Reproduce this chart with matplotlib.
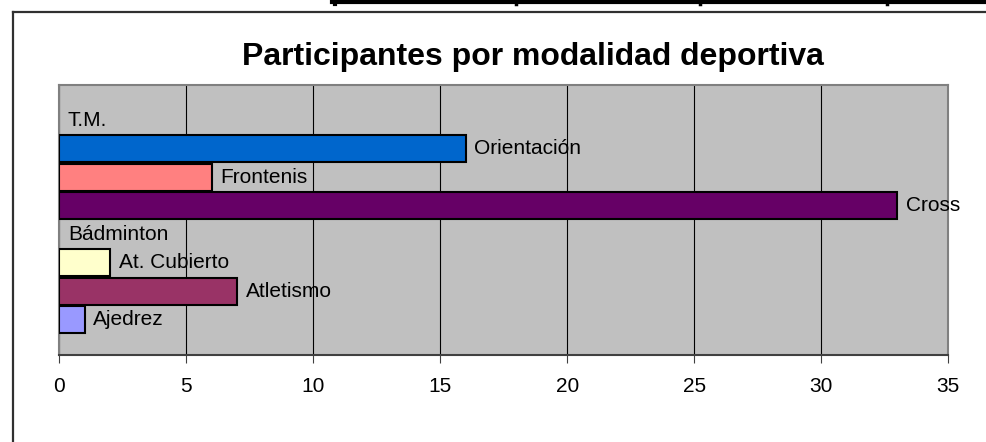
import numpy as np
import matplotlib; matplotlib.use("Agg"); import matplotlib.pyplot as plt
from matplotlib.lines import Line2D

plt.rcParams["font.family"] = ["Liberation Sans", "DejaVu Sans"]

categorias = ["T.M.", "Orientación", "Frontenis", "Cross", "Bádminton",
              "At. Cubierto", "Atletismo", "Ajedrez"]
participantes = [0, 16, 6, 33, 0, 2, 7, 1]
colores = ["#CCFFFF", "#0066CC", "#FF8080", "#660066", "#CCCCFF",
           "#FFFFCC", "#993366", "#9999FF"]
ticks_x = [0, 5, 10, 15, 20, 25, 30, 35]

W, H = 987, 442
fig = plt.figure(figsize=(W/100, H/100), dpi=100)
fig.patch.set_facecolor("white")

# marco del grafico y trozo de tabla de arriba
fig.add_artist(Line2D([13/W, 13/W], [0, 1-12/H], color="#303030", lw=1.6))
fig.add_artist(Line2D([13/W, 1], [1-12/H, 1-12/H], color="#303030", lw=1.6))
fig.add_artist(Line2D([332/W, 1], [1-2/H, 1-2/H], color="black", lw=3))
for xv in [335, 516, 700, 887]:
    fig.add_artist(Line2D([xv/W, xv/W], [1-4/H, 1], color="black", lw=3 if xv == 335 else 2.5))

ax = fig.add_axes([59.3/W, 1-355/H, (948-59.3)/W, (355-85)/H])
ax.set_facecolor("#C0C0C0")

y = np.arange(len(categorias))
lws = [1.5 if v > 0 else 0 for v in participantes]
ax.barh(y, participantes, height=0.95, color=colores, edgecolor="black", linewidth=lws, zorder=3)
for yi, v, nombre in zip(y, participantes, categorias):
    ax.annotate(nombre, (v, yi), xytext=(6.2, 0), textcoords="offset points",
                ha="left", va="center", fontsize=15, zorder=4)

ax.set_xlim(0, 35)
ax.set_ylim(len(categorias) - 1 + 1.23, -1.23)
ax.set_xticks(ticks_x)
ax.set_yticks([])
ax.grid(axis="x", color="black", lw=0.8, zorder=1)
ax.set_axisbelow(True)
for s in ["top", "left", "right"]:
    ax.spines[s].set_color("#808080")
    ax.spines[s].set_linewidth(1.5)
ax.spines["bottom"].set_color("#404040")
ax.spines["bottom"].set_linewidth(1.5)
ax.tick_params(axis="x", direction="out", length=5.5, width=0.8, color="#404040",
               labelsize=15, pad=10)

fig.text(533/W, 1-57/H, "Participantes por modalidad deportiva", ha="center", va="center",
         fontsize=23, fontweight="bold")

fig.savefig("out.png", dpi=100)
